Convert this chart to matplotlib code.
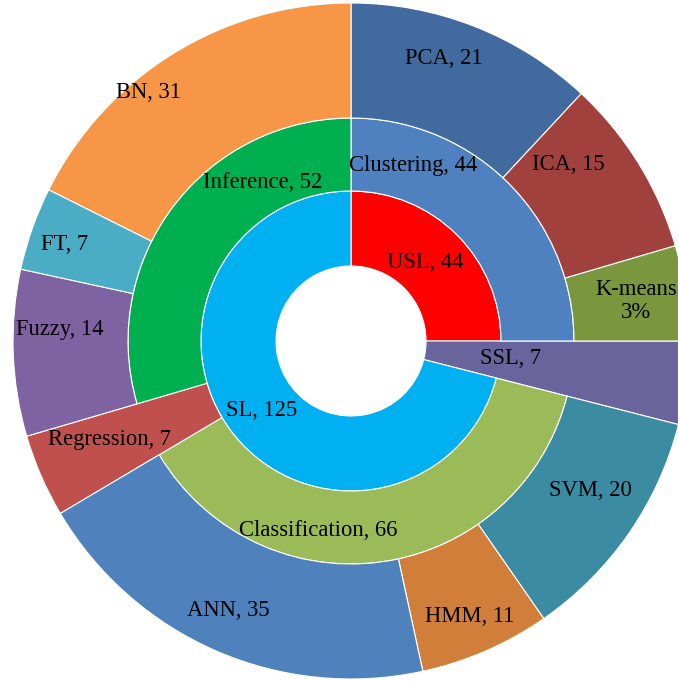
import matplotlib
matplotlib.use('Agg')
import matplotlib.pyplot as plt
from matplotlib.patches import Wedge

# three-level hierarchy, drawn clockwise from 12 o'clock
top = ['USL', 'SSL', 'SL']
top_vals = [44, 7, 125]

mid = ['Clustering', 'Classification', 'Regression', 'Inference']
mid_vals = [44, 66, 7, 52]
mid_parent = ['USL', 'SL', 'SL', 'SL']

leaf = ['PCA', 'ICA', 'K-means', 'SVM', 'HMM', 'ANN', 'Fuzzy', 'FT', 'BN']
leaf_vals = [21, 15, 8, 20, 11, 35, 14, 7, 31]
leaf_parent = ['Clustering'] * 3 + ['Classification'] * 3 + ['Inference'] * 3

label_text = {'K-means': 'K-means\n3%'}

colors = {
    'USL': '#FF0000', 'SSL': '#69659C', 'SL': '#00B0F0',
    'Clustering': '#4F81C0', 'Classification': '#9BBB59',
    'Regression': '#C0504D', 'Inference': '#00B050',
    'PCA': '#416A9E', 'ICA': '#A0413E', 'K-means': '#7A973E',
    'SVM': '#3B8CA3', 'HMM': '#D07E3A', 'ANN': '#4F81BD',
    'Fuzzy': '#7F62A1', 'FT': '#4BACC6', 'BN': '#F79646',
}

# label centres in pixels (from top-left)
label_pos = {
    'USL': (425, 262), 'SSL': (511, 359), 'SL': (262, 411),
    'Clustering': (413, 165), 'Classification': (318, 530),
    'Regression': (110, 440), 'Inference': (263, 183),
    'PCA': (444, 58), 'ICA': (568, 165), 'K-means': (636, 301),
    'SVM': (590, 490), 'HMM': (470, 616), 'ANN': (228, 610),
    'Fuzzy': (60, 330), 'FT': (65, 244), 'BN': (148, 92),
}

W, H = 678, 681
cx, cy = 351, H - 341
radii = [75, 150, 223, 338]

total = sum(top_vals)
start = {}
value = {}
depth = {}
cum = 0
for n, v in zip(top, top_vals):
    start[n], value[n], depth[n] = cum, v, 0
    cum += v
for names, vals, parents, d in [(mid, mid_vals, mid_parent, 1),
                                (leaf, leaf_vals, leaf_parent, 2)]:
    offs = {}
    for n, v, p in zip(names, vals, parents):
        o = offs.get(p, start[p])
        start[n], value[n], depth[n] = o, v, d
        offs[p] = o + v

has_children = set(mid_parent) | set(leaf_parent)

fig = plt.figure(figsize=(W / 100, H / 100), dpi=100)
ax = fig.add_axes([0, 0, 1, 1])
ax.set_xlim(0, W)
ax.set_ylim(0, H)
ax.axis('off')

for n in start:
    d = depth[n]
    r_in = radii[d]
    r_out = radii[d + 1] if n in has_children else radii[-1]
    t2 = 90 - start[n] / total * 360
    t1 = 90 - (start[n] + value[n]) / total * 360
    ax.add_patch(Wedge((cx, cy), r_out, t1, t2, width=r_out - r_in,
                       facecolor=colors[n], edgecolor='white', linewidth=0.8))
    x, y = label_pos[n]
    ax.text(x, H - y, label_text.get(n, f'{n}, {value[n]}'),
            ha='center', va='center', fontsize=16.3,
            family='Liberation Serif', color='black', linespacing=1.1)

fig.savefig('out.png', dpi=100, facecolor='white')
